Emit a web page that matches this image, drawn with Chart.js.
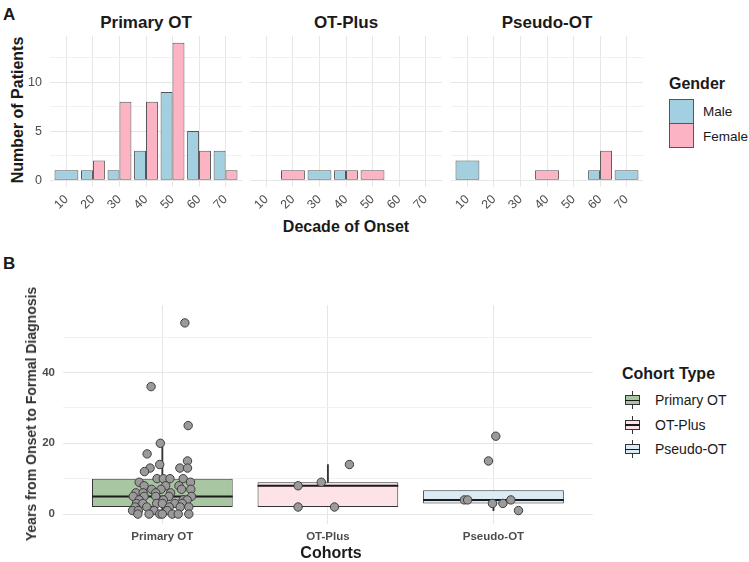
<!DOCTYPE html>
<html>
<head>
  <meta charset="utf-8">
  <title>Onset decade and diagnostic delay</title>
  <script src="https://cdn.jsdelivr.net/npm/chart.js@4.4.0/dist/chart.umd.min.js"></script>
  <style>
    body { margin: 0; background: #fff; }
    #wrap { position: relative; width: 749px; height: 562px; overflow: hidden; background: #fff;
            font-family: "Liberation Sans", Arial, sans-serif; color: #1a1a1a; }
    #wrap canvas { position: absolute; }
    .t { position: absolute; white-space: nowrap; line-height: 1; }
    .bold { font-weight: bold; }
    .ctr { transform: translate(-50%, -50%); }
    .rot { transform: translate(-50%, -50%) rotate(-90deg); }
    .key { position: absolute; box-sizing: border-box; }
  </style>
</head>
<body>
<div id="wrap">
  <div class="t bold" style="left:3px;top:6px;font-size:17px">A</div>
  <div class="t bold" style="left:3px;top:255px;font-size:17px">B</div>

  <div class="t bold ctr" style="left:146px;top:22px;font-size:17px">Primary OT</div>
  <div class="t bold ctr" style="left:346px;top:22px;font-size:17px">OT-Plus</div>
  <div class="t bold ctr" style="left:547px;top:22px;font-size:17px">Pseudo-OT</div>
  <div class="t bold rot" style="left:18px;top:110px;font-size:16px">Number of Patients</div>
  <div class="t bold ctr" style="left:346px;top:227px;font-size:16px">Decade of Onset</div>

  <canvas id="facet1" width="242" height="181" style="left:0;top:36px"></canvas>
  <canvas id="facet2" width="192" height="181" style="left:250px;top:36px"></canvas>
  <canvas id="facet3" width="192" height="181" style="left:451px;top:36px"></canvas>

  <!-- gender legend -->
  <div class="t bold" style="left:669px;top:76px;font-size:16px">Gender</div>
  <div class="key" style="left:669px;top:99px;width:25px;height:25px;background:#a3d0e1;border:1px solid #555"></div>
  <div class="key" style="left:669px;top:123px;width:25px;height:25px;background:#fcb3c3;border:1px solid #555"></div>
  <div class="t" style="left:703px;top:105px;font-size:13.5px">Male</div>
  <div class="t" style="left:703px;top:130px;font-size:13.5px">Female</div>

  <canvas id="boxes" width="598" height="250" style="left:0;top:300px"></canvas>
  <div class="t bold rot" style="left:31px;top:414px;font-size:14px;color:#333">Years from Onset to Formal Diagnosis</div>
  <div class="t bold ctr" style="left:331px;top:553px;font-size:16px">Cohorts</div>

  <!-- cohort legend -->
  <div class="t bold" style="left:622px;top:366px;font-size:16px">Cohort Type</div>
  <div id="cohortKeys"></div>
</div>

<script>
  // panel A: patients per decade of onset
  const decades = [10, 20, 30, 40, 50, 60, 70];
  const primaryMale = [1, 1, 1, 3, 9, 5, 3];
  const primaryFemale = [0, 2, 8, 8, 14, 3, 1];
  const plusMale = [0, 0, 1, 1, 0, 0, 0];
  const plusFemale = [0, 1, 0, 1, 1, 0, 0];
  const pseudoMale = [2, 0, 0, 0, 0, 1, 1];
  const pseudoFemale = [0, 0, 0, 1, 0, 3, 0];
  const countTicks = [0, 2.5, 5, 7.5, 10, 12.5];
  const countLabels = [0, 5, 10];

  // panel B: years from onset to diagnosis
  const cohorts = ['Primary OT', 'OT-Plus', 'Pseudo-OT'];
  const boxLow = [0, 2, 1];
  const boxQ1 = [2, 2, 3];
  const boxMedian = [5, 8, 4];
  const boxQ3 = [10, 9, 6.75];
  const boxHigh = [20, 14, 4];
  const primaryYears = [54, 36, 25, 20, 17, 15, 14, 13, 13, 13, 12, 10, 10, 10, 10, 9, 9, 8, 8, 8,
    7, 7, 7, 7, 6, 6, 6, 6, 5, 5, 5, 5, 5, 4, 4, 4, 4, 3, 3, 3, 3, 3, 3, 2, 2, 2, 2, 2, 1, 1, 1, 1,
    0, 0, 0, 0, 0, 0, 0];
  const primaryJitter = [0.136, -0.068, 0.156, -0.012, -0.092, 0.152, -0.016, -0.074, 0.106, 0.152,
    -0.108, -0.032, 0.006, 0.046, 0.126, -0.14, 0.17, -0.11, 0.02, 0.10,
    -0.064, -0.008, 0.116, 0.172, -0.16, -0.116, -0.04, 0.05, -0.176, -0.11, -0.04, 0.04, 0.176,
    -0.14, 0.006, 0.126, 0.15, -0.156, -0.118, -0.034, 0.0, 0.076, 0.12,
    -0.164, -0.094, 0.042, 0.108, 0.16, -0.18, -0.145, -0.05, 0.03,
    -0.148, -0.08, -0.016, 0.0, 0.06, 0.096, 0.16];
  const plusYears = [8, 9, 14, 2, 2];
  const plusJitter = [-0.18, -0.04, 0.13, -0.18, 0.04];
  const pseudoYears = [22, 15, 4, 4, 3, 3, 4, 1];
  const pseudoJitter = [0.014, -0.03, -0.176, -0.156, -0.006, 0.057, 0.105, 0.151];
  const yearTicks = [0, 10, 20, 30, 40, 50];
  const yearLabels = [0, 20, 40];

  const MALE = '#a3d0e1';
  const FEMALE = '#fcb3c3';
  const cohortFill = ['#a9c6a3', '#fde2e8', '#dbebf5'];

  Chart.defaults.font.family = '"Liberation Sans", Arial, sans-serif';
  Chart.defaults.animation = false;
  Chart.defaults.plugins.legend.display = false;
  Chart.defaults.plugins.tooltip.enabled = false;

  function gridColor(ctx, labels) {
    return labels.includes(ctx.tick.value) ? '#e6e6e6' : '#f1f1f1';
  }

  function facetChart(id, male, female, showY) {
    const both = decades.map((d, i) => male[i] > 0 && female[i] > 0);
    const pick = (vals, half) => decades.map((d, i) => ({
      x: d,
      y: vals[i] > 0 && both[i] === half ? vals[i] : null
    }));
    const barStyle = {
      borderColor: '#555', borderWidth: 1, borderSkipped: false,
      categoryPercentage: 0.9, barPercentage: 1
    };
    new Chart(document.getElementById(id), {
      type: 'bar',
      data: {
        datasets: [
          Object.assign({ label: 'Male', data: pick(male, false), backgroundColor: MALE, grouped: false }, barStyle),
          Object.assign({ label: 'Female', data: pick(female, false), backgroundColor: FEMALE, grouped: false }, barStyle),
          Object.assign({ label: 'Male', data: pick(male, true), backgroundColor: MALE }, barStyle),
          Object.assign({ label: 'Female', data: pick(female, true), backgroundColor: FEMALE }, barStyle)
        ]
      },
      options: {
        responsive: false,
        layout: { padding: 0 },
        scales: {
          x: {
            type: 'linear', min: 3.8, max: 76.2, offset: false,
            afterBuildTicks: s => { s.ticks = decades.map(v => ({ value: v })); },
            afterFit: s => { s.height = 30; s.paddingLeft = 0; s.paddingRight = 0; },
            grid: { color: '#e6e6e6', drawTicks: false, offset: false },
            border: { display: false },
            ticks: { minRotation: 45, maxRotation: 45, padding: 5, color: '#4d4d4d', font: { size: 12.5 } }
          },
          y: {
            min: -0.7, max: 14.7,
            afterBuildTicks: s => { s.ticks = countTicks.map(v => ({ value: v })); },
            afterFit: s => { s.width = showY ? 50 : 0; s.paddingTop = 0; s.paddingBottom = 0; },
            grid: { color: ctx => gridColor(ctx, countLabels), drawTicks: false },
            border: { display: false },
            ticks: {
              display: showY, padding: 8, color: '#4d4d4d', font: { size: 12.5 },
              callback: v => countLabels.includes(v) ? String(v) : ''
            }
          }
        }
      }
    });
  }

  facetChart('facet1', primaryMale, primaryFemale, true);
  facetChart('facet2', plusMale, plusFemale, false);
  facetChart('facet3', pseudoMale, pseudoFemale, false);

  // boxplot pieces
  const boxData = cohorts.map((c, i) => ({ x: i + 1, y: [boxQ1[i], boxQ3[i]] }));
  const whiskers = [];
  cohorts.forEach((c, i) => {
    if (boxLow[i] < boxQ1[i]) whiskers.push({ x: i + 1, y: [boxLow[i], boxQ1[i]] });
    if (boxHigh[i] > boxQ3[i]) whiskers.push({ x: i + 1, y: [boxQ3[i], boxHigh[i]] });
  });
  const halfBox = 0.425;
  const medians = [];
  cohorts.forEach((c, i) => {
    medians.push({ x: i + 1 - halfBox, y: boxMedian[i] });
    medians.push({ x: i + 1 + halfBox, y: boxMedian[i] });
    medians.push({ x: i + 1, y: null });
  });
  const points = [];
  [[primaryYears, primaryJitter], [plusYears, plusJitter], [pseudoYears, pseudoJitter]].forEach((p, i) => {
    p[0].forEach((v, j) => points.push({ x: i + 1 + p[1][j], y: v }));
  });

  new Chart(document.getElementById('boxes'), {
    type: 'bar',
    data: {
      datasets: [
        {
          type: 'scatter', data: points, order: 0,
          pointRadius: 4.2, pointBackgroundColor: '#9a9a9a', pointBorderColor: '#3d3d3d', pointBorderWidth: 1
        },
        {
          type: 'line', data: medians, order: 1, spanGaps: false,
          borderColor: '#1a1a1a', borderWidth: 2, pointRadius: 0
        },
        {
          data: boxData, order: 2, grouped: false, backgroundColor: cohortFill,
          borderColor: '#333', borderWidth: 1, borderSkipped: false,
          categoryPercentage: 1, barPercentage: 0.85
        },
        {
          data: whiskers, order: 3, grouped: false, backgroundColor: '#333',
          borderWidth: 0, maxBarThickness: 1.2, categoryPercentage: 1, barPercentage: 1
        }
      ]
    },
    options: {
      responsive: false,
      layout: { padding: 0 },
      scales: {
        x: {
          type: 'linear', min: 0.4, max: 3.6, offset: false,
          afterBuildTicks: s => { s.ticks = cohorts.map((c, i) => ({ value: i + 1 })); },
          afterFit: s => { s.height = 26; s.paddingLeft = 0; s.paddingRight = 0; },
          grid: { color: '#e6e6e6', drawTicks: false, offset: false },
          border: { display: false },
          ticks: {
            padding: 6, color: '#4d4d4d', font: { size: 11.5, weight: 'bold' },
            callback: v => cohorts[v - 1] || ''
          }
        },
        y: {
          min: -2.8, max: 59,
          afterBuildTicks: s => { s.ticks = yearTicks.map(v => ({ value: v })); },
          afterFit: s => { s.width = 63; s.paddingTop = 0; s.paddingBottom = 0; },
          grid: { color: ctx => gridColor(ctx, yearLabels), drawTicks: false },
          border: { display: false },
          ticks: {
            padding: 8, color: '#4d4d4d', font: { size: 11.5, weight: 'bold' },
            callback: v => yearLabels.includes(v) ? String(v) : ''
          }
        }
      }
    }
  });

  // cohort legend keys (small boxplot glyphs)
  const keys = document.getElementById('cohortKeys');
  cohorts.forEach((c, i) => {
    const cy = 400 + i * 24.7;
    keys.insertAdjacentHTML('beforeend',
      `<div class="key" style="left:632px;top:${cy - 9}px;width:1px;height:18px;background:#333"></div>` +
      `<div class="key" style="left:625px;top:${cy - 5}px;width:15px;height:10px;background:${cohortFill[i]};border:1px solid #333"></div>` +
      `<div class="key" style="left:625px;top:${cy - 0.5}px;width:15px;height:1.5px;background:#1a1a1a"></div>` +
      `<div class="t" style="left:655px;top:${cy - 7}px;font-size:14px">${c}</div>`);
  });
</script>
</body>
</html>
